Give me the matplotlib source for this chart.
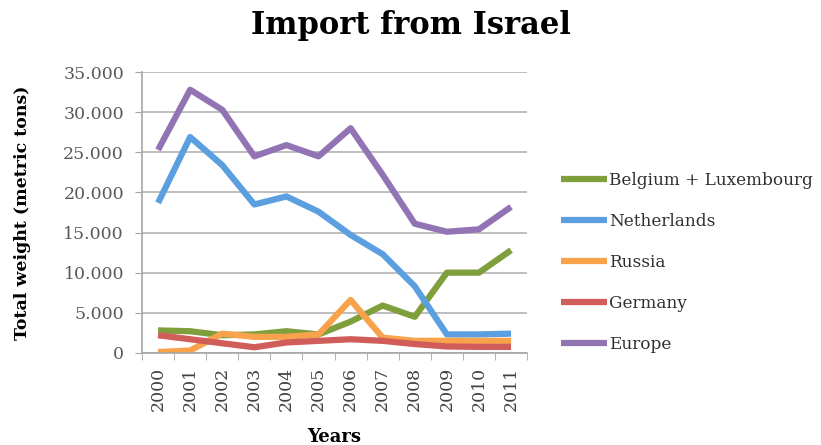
import matplotlib.pyplot as plt

years = ['2000', '2001', '2002', '2003', '2004', '2005',
         '2006', '2007', '2008', '2009', '2010', '2011']

# metric tons per year
belgium_lux = [2800, 2700, 2200, 2300, 2700, 2300, 3900, 5900, 4500, 10000, 10000, 12800]
netherlands = [18700, 26900, 23400, 18500, 19500, 17600, 14700, 12300, 8300, 2300, 2300, 2400]
russia = [100, 300, 2400, 2000, 2000, 2300, 6600, 1900, 1500, 1500, 1500, 1500]
germany = [2200, 1700, 1200, 700, 1300, 1500, 1700, 1500, 1100, 800, 750, 750]
europe = [25300, 32800, 30300, 24500, 25900, 24500, 28000, 22200, 16100, 15100, 15400, 18200]

series = [
    ('Belgium + Luxembourg', belgium_lux, '#7F9F3C'),
    ('Netherlands', netherlands, '#5B9FE0'),
    ('Russia', russia, '#F8A24C'),
    ('Germany', germany, '#D05D5A'),
    ('Europe', europe, '#9274B5'),
]

plt.rcParams['font.family'] = ['DejaVu Serif']

fig = plt.figure(figsize=(8.21, 4.45), dpi=100)
ax = fig.add_axes([0.173, 0.207, 0.469, 0.631])

x = list(range(len(years)))
for name, vals, col in series:
    ax.plot(x, vals, color=col, linewidth=4.5, label=name, solid_capstyle='butt')

ax.set_xlim(-0.5, len(years) - 0.5)
ax.set_ylim(0, 35000)
ax.set_yticks(range(0, 35001, 5000))
ax.set_yticklabels(['0' if v == 0 else f'{v // 1000}.000' for v in range(0, 35001, 5000)],
                   fontsize=12.5, color='#595959')
ax.set_xticks(x)
ax.set_xticklabels(years, rotation=90, fontsize=12.5, color='#404040')
ax.set_xticks([i - 0.5 for i in range(len(years) + 1)], minor=True)
ax.tick_params(axis='x', which='major', length=0, pad=10)
ax.tick_params(axis='x', which='minor', length=5, color='#a6a6a6')
ax.tick_params(axis='y', length=5, color='#a6a6a6', pad=8)

ax.grid(axis='y', color='#b3b3b3', linewidth=1.2)
ax.set_axisbelow(True)
for s in ['top', 'right']:
    ax.spines[s].set_visible(False)
for s in ['left', 'bottom']:
    ax.spines[s].set_color('#a6a6a6')
    ax.spines[s].set_linewidth(1.2)

ax.set_xlabel('Years', fontsize=13, fontweight='bold', labelpad=12)
ax.set_ylabel('Total weight (metric tons)', fontsize=12.5, fontweight='bold', labelpad=23)
fig.suptitle('Import from Israel', fontsize=22, fontweight='bold', y=0.978)

leg = ax.legend(loc='center left', bbox_to_anchor=(1.048, 0.322), frameon=False,
                fontsize=12.2, handlelength=2.75, handletextpad=0.1, labelspacing=1.42)
for t in leg.get_texts():
    t.set_color('#303030')

fig.savefig('out.png', dpi=100)
